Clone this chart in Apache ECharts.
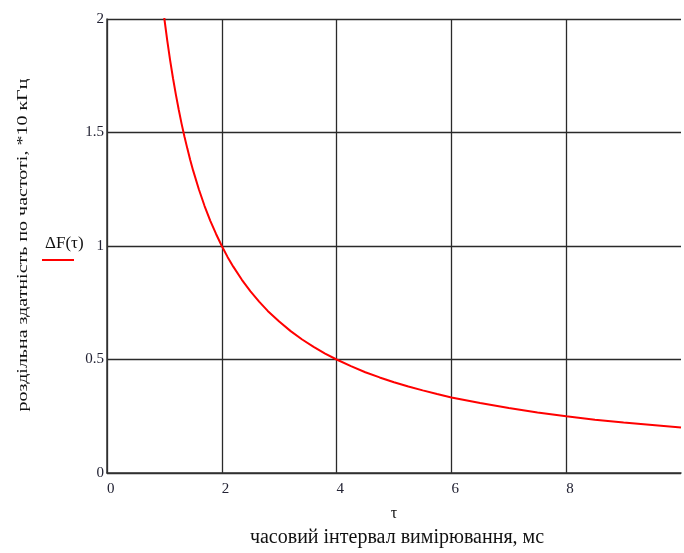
<!DOCTYPE html>
<html>
<head>
<meta charset="utf-8">
<script src="https://cdn.jsdelivr.net/npm/echarts@6/dist/echarts.min.js"></script>
<style>html,body{margin:0;padding:0;background:#fff}#c{width:684px;height:553px}</style>
</head>
<body>
<div id="c"></div>
<script>
const tau = [0.97,1.0,1.05,1.1,1.15,1.2,1.25,1.3,1.35,1.4,1.45,1.5,1.6,1.7,1.8,1.9,2.0,2.1,2.2,2.35,2.5,2.65,2.8,3.0,3.2,3.4,3.6,3.8,4.0,4.25,4.5,4.75,5.0,5.25,5.5,5.75,6.0,6.5,7.0,7.5,8.0,8.5,9.0,9.5,10.0];
const dF  = [2.062,2.0,1.905,1.818,1.739,1.667,1.6,1.538,1.481,1.429,1.379,1.333,1.25,1.176,1.111,1.053,1.0,0.952,0.909,0.851,0.8,0.755,0.714,0.667,0.625,0.588,0.556,0.526,0.5,0.471,0.444,0.421,0.4,0.381,0.364,0.348,0.333,0.308,0.286,0.267,0.25,0.235,0.222,0.211,0.2];
const xTicks = [0,2,4,6,8];
const yTickLabels = {0:'0',0.5:'0.5',1:'1',1.5:'1.5',2:'2'};
const seriesName = 'ΔF(τ)';
const xTitle = 'часовий інтервал вимірювання, мс';
const yTitle = 'роздільна здатність по частоті, *10 кГц';

const serif = '"Liberation Serif", "DejaVu Serif", serif';
const chart = echarts.init(document.getElementById('c'), null, {renderer:'canvas'});
chart.setOption({
  animation:false,
  grid:{left:107,top:19,width:578,height:454,containLabel:false},
  xAxis:{
    type:'value',min:0,max:10,interval:2,
    name:'τ',nameLocation:'middle',nameGap:33,
    nameTextStyle:{fontFamily:serif,fontSize:16,color:'#111'},
    axisLine:{show:true,onZero:false,lineStyle:{color:'#333',width:1.5}},
    axisTick:{show:false},
    axisLabel:{fontFamily:serif,fontSize:15,color:'#223',margin:9,align:'left',
      formatter:v=>xTicks.includes(v)?String(v):''},
    splitLine:{show:true,showMaxLine:false,lineStyle:{color:'#2a2a2a',width:1.3}}
  },
  yAxis:{
    type:'value',min:0,max:2,interval:0.5,
    axisLine:{show:true,lineStyle:{color:'#333',width:1.5}},
    axisTick:{show:false},
    axisLabel:{fontFamily:serif,fontSize:15,color:'#223',margin:3,
      formatter:v=>yTickLabels[v]!==undefined?yTickLabels[v]:''},
    splitLine:{show:true,lineStyle:{color:'#2a2a2a',width:1.3}}
  },
  graphic:[
    {type:'text',x:397,y:538,style:{text:xTitle,font:'20px '+serif,fill:'#111',align:'center',verticalAlign:'middle'}},
    {type:'text',x:23,y:245,rotation:Math.PI/2,scaleY:0.78,style:{text:yTitle,font:'20px '+serif,fill:'#111',align:'center',verticalAlign:'middle'}},
    {type:'text',x:45,y:235,style:{text:seriesName,font:'17px '+serif,fill:'#111'}},
    {type:'line',shape:{x1:42,y1:260,x2:74,y2:260},style:{stroke:'#ff0000',lineWidth:2}}
  ],
  series:[{
    name:seriesName,type:'line',data:tau.map((t,i)=>[t,dF[i]]),
    showSymbol:false,smooth:false,clip:true,
    lineStyle:{color:'#ff0000',width:2}
  }]
});
</script>
</body>
</html>
